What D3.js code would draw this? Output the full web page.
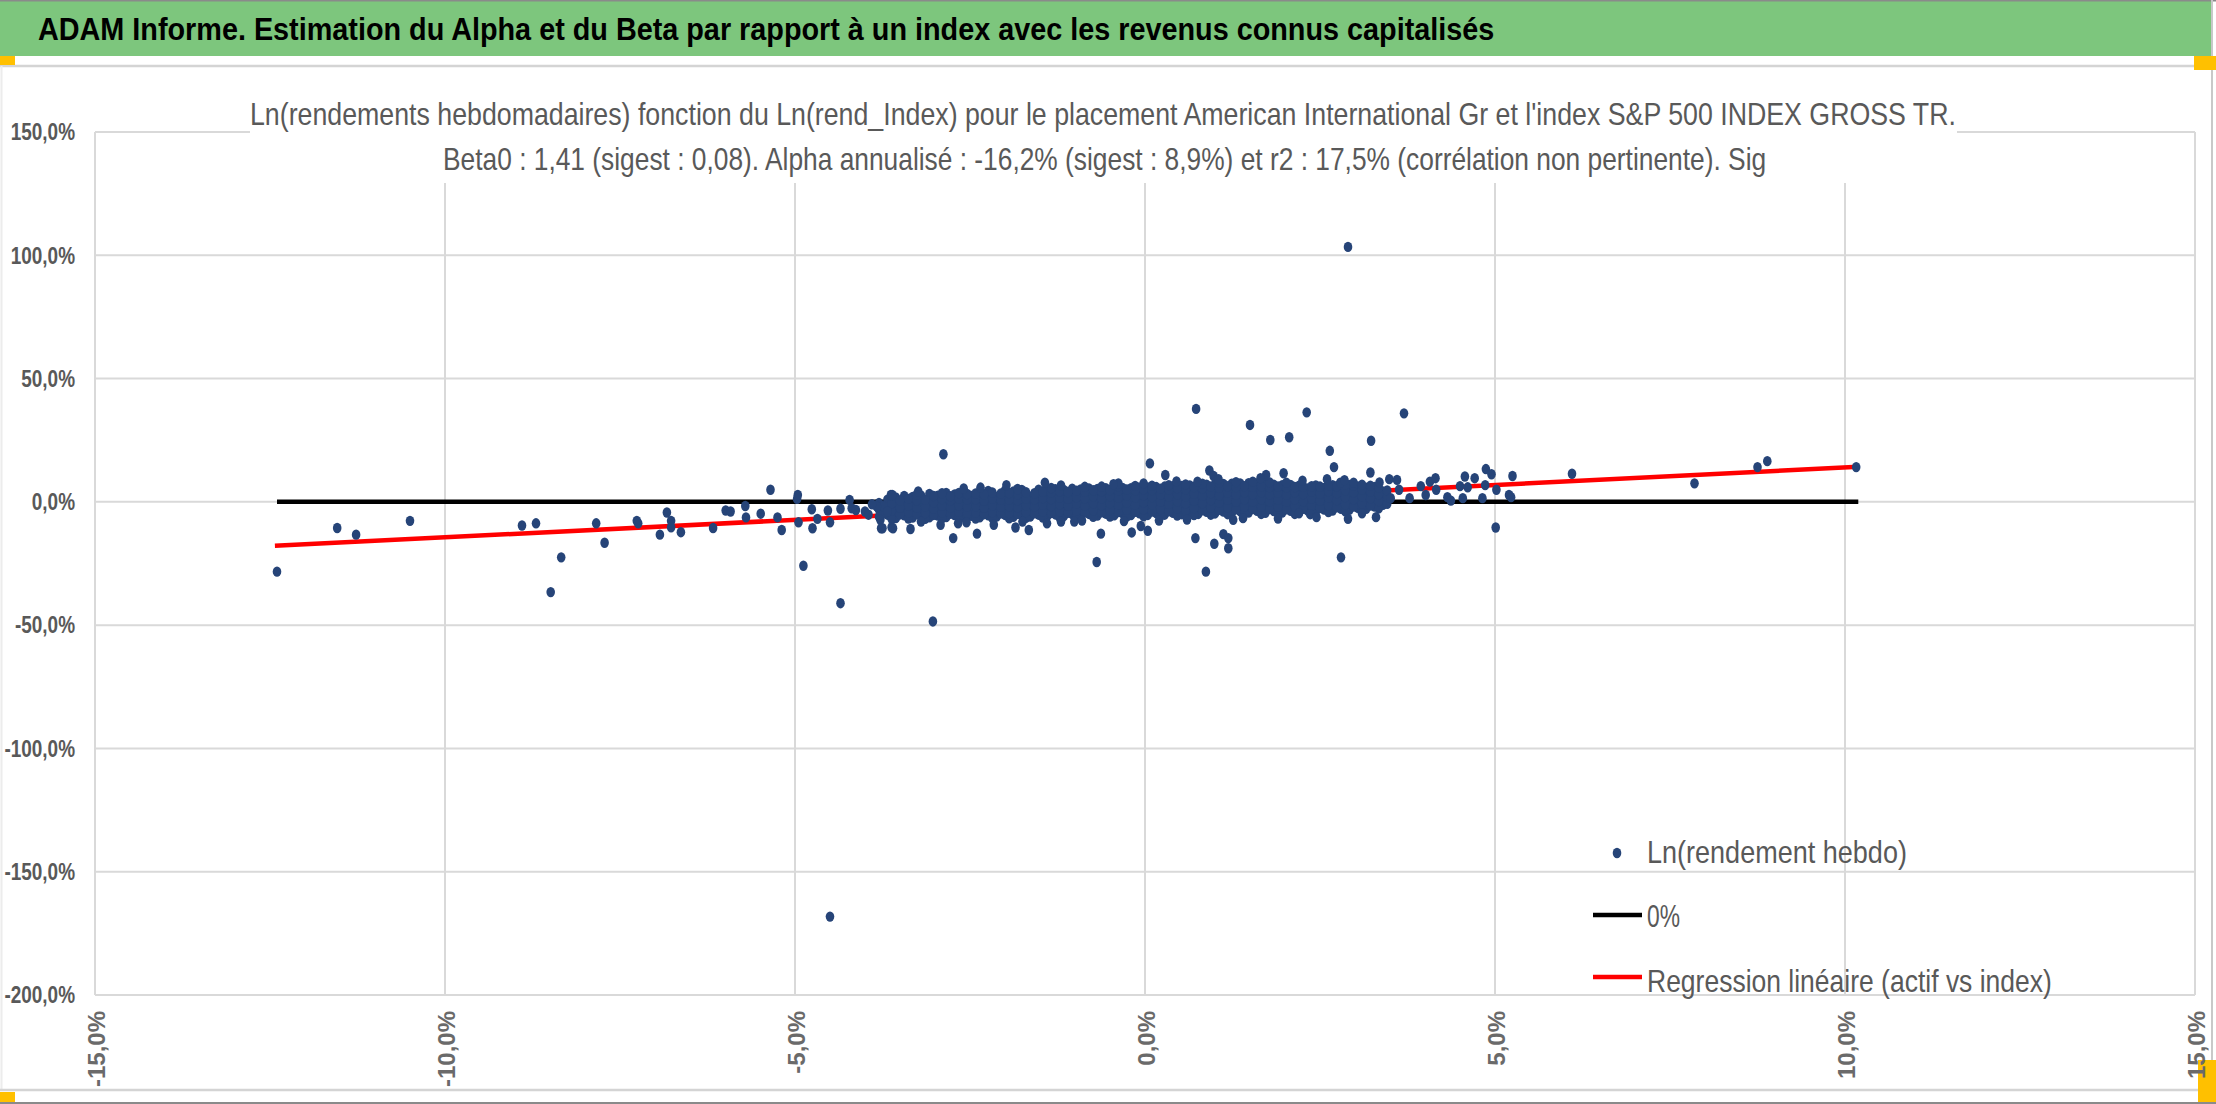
<!DOCTYPE html>
<html>
<head>
<meta charset="utf-8">
<script src="https://cdn.jsdelivr.net/npm/d3@7"></script>
<style>
html,body{margin:0;padding:0;background:#fff;overflow:hidden}
svg{display:block}
</style>
</head>
<body>
<svg id="chart" width="2216" height="1104"></svg>
<script>
// ---------------- DATA ----------------
const bannerTitle = "ADAM Informe. Estimation du Alpha et du Beta par rapport à un index avec les revenus connus capitalisés";
const chartTitle1 = "Ln(rendements hebdomadaires) fonction du Ln(rend_Index) pour le placement American International Gr et l'index S&P 500 INDEX GROSS TR.";
const chartTitle2 = "Beta0 : 1,41 (sigest : 0,08). Alpha annualisé : -16,2% (sigest : 8,9%) et r2 : 17,5% (corrélation non pertinente). Sig";
const legendLabels = ["Ln(rendement hebdo)", "0%", "Regression linéaire (actif vs index)"];

const xTickValues = [-15, -10, -5, 0, 5, 10, 15];          // Ln(rend_Index), %
const yTickValues = [150, 100, 50, 0, -50, -100, -150, -200]; // Ln(rendement hebdo), %

const zeroLine = [[-12.4, 0], [10.19, 0]];
const regressionLine = [[-12.43, -17.8], [10.19, 14.2]];

// isolated points [x %, y %]
const outlierPoints = [
  [-12.40,-28.3],[-11.54,-10.6],[-11.27,-13.3],[-10.50,-7.7],[-8.90,-9.6],[-8.70,-8.7],
  [-8.49,-36.6],[-8.34,-22.5],[-7.84,-8.7],[-7.72,-16.6],[-7.26,-7.7],[-7.24,-8.7],
  [-6.93,-13.3],[-6.83,-4.3],[-6.77,-7.7],[-6.77,-10.3],[-6.63,-12.3],[-6.17,-10.6],
  [-5.99,-3.5],[-5.92,-3.9],[-5.71,-1.7],[-5.70,-6.3],[-5.49,-4.8],[-5.35,4.9],
  [-5.25,-6.3],[-5.19,-11.4],[-4.97,1.2],[-4.96,2.8],[-4.95,-8.3],[-4.88,-25.9],
  [-4.76,-3.0],[-4.75,-10.7],[-4.68,-6.9],[-4.53,-3.5],[-4.50,-8.3],[-4.35,-41.1],
  [-4.35,-2.8],[-4.22,0.8],[-4.19,-2.6],[-4.13,-3.3],[-4.00,-3.9],[-3.83,-1.9],
  [-3.78,-7.3],[-3.77,-10.7],[-3.63,2.8],[-3.62,-10.3],[-3.68,-3.9],
  [-4.50,-168.2],[-3.03,-48.5],[2.90,103.4],
  [-2.88,19.3],[1.50,31.2],[1.79,25.1],[2.06,26.2],[0.07,15.6],[0.29,10.9],
  [0.92,12.7],[0.98,10.5],[1.73,10.9],[1.98,11.6],[0.75,8.2],[-1.43,7.8],
  [-2.59,5.4],[-3.24,4.2],[-3.61,2.8],[-1.98,6.8],[-0.38,7.5],[-0.02,7.5],
  [-0.69,-24.4],[0.87,-28.3],[0.72,-14.7],[0.99,-17.0],[1.19,-18.8],[1.12,-13.1],
  [1.19,-14.7],[-2.74,-14.7],[-2.40,-12.9],[-3.35,-11.0],[-3.60,-10.7],[-3.75,-10.7],
  [-1.85,-10.4],[-1.66,-11.4],[-0.63,-12.9],[-0.19,-12.4],[0.04,-11.7],[-0.06,-9.8],
  [-2.92,-9.3],[-2.67,-8.7],[-2.16,-9.3],[-1.40,-8.7],[-1.20,-8.0],[-1.01,-8.0],[1.26,-7.3],
  [0.73,37.7],[2.31,36.3],[3.70,35.9],[2.64,20.7],[3.23,24.8],[2.70,14.1],[3.22,11.9],
  [2.60,9.2],[2.79,7.8],[2.98,7.8],[3.49,9.2],[3.60,8.9],[3.78,1.5],[3.63,4.9],
  [3.51,1.5],[3.94,6.4],[4.01,2.8],[4.07,8.2],[4.15,9.6],[4.16,4.9],[4.32,1.9],
  [4.37,0.5],[4.54,1.5],[4.50,6.4],[4.57,10.3],[4.61,5.9],[4.71,9.6],[4.82,1.5],
  [4.87,13.3],[4.86,6.8],[4.95,11.2],[5.02,4.9],[5.01,-10.4],[5.20,2.8],[5.23,1.9],
  [5.25,10.5],[6.10,11.4],[2.80,-22.5],[2.90,-6.9],[3.30,-6.2],[2.20,-4.6],[2.36,-5.0],
  [7.85,7.5],[8.75,14.1],[8.89,16.5],[10.16,14.1],
  [-3.95,-5.2],[-3.90,-1.0],[-3.20,-8.0],[-2.55,-8.3],[-2.35,5.8],[-1.75,-8.0],
  [-1.20,6.7],[-0.90,-7.6],[-0.45,7.2],[-0.30,-7.8],[0.20,-7.6],[0.45,8.3],[0.60,-7.2],
  [1.05,9.2],[1.40,-6.6],[1.65,9.6],[1.90,-6.8],[2.25,8.6],[2.45,-6.2],[2.85,8.8],
  [3.10,-4.6],[3.35,7.9]
];

// dense central cloud, estimated column by column [x %, [y %...]] (two interleaved sets)
const cloudColumnsA = [
 [-3.80,[-6.0,-3.1,-0.4]],[-3.68,[-5.2,-2.0,0.9]],[-3.56,[-6.6,-3.9,-1.1,1.8]],
 [-3.44,[-5.5,-2.8,0.2,2.4]],[-3.32,[-6.4,-3.7,-1.0,2.0]],[-3.20,[-5.8,-3.1,-0.4,2.6]],
 [-3.08,[-6.3,-4.0,-1.5,1.1,3.2]],[-2.96,[-5.6,-2.9,-0.2,2.5]],[-2.84,[-6.2,-3.6,-1.0,1.6,3.6]],
 [-2.72,[-5.4,-2.6,0.3,3.0]],[-2.60,[-6.1,-3.5,-0.8,1.9,3.9]],[-2.48,[-5.7,-3.0,-0.3,2.4]],
 [-2.36,[-6.3,-3.8,-1.2,1.4,4.0]],[-2.24,[-5.5,-2.8,0.0,2.7,4.4]],[-2.12,[-6.0,-3.4,-0.7,2.0]],
 [-2.00,[-5.3,-2.6,0.1,2.9,4.6]],[-1.88,[-6.1,-3.6,-0.9,1.7,4.2]],[-1.76,[-5.4,-2.7,0.0,2.6,4.8]],
 [-1.64,[-6.0,-3.3,-0.6,2.1]],[-1.52,[-5.2,-2.5,0.3,3.0,4.9]],[-1.40,[-5.9,-3.2,-0.5,2.2,4.6]],
 [-1.28,[-5.1,-2.4,0.4,3.1,5.1]],[-1.16,[-5.8,-3.1,-0.3,2.4,4.8]],[-1.04,[-5.0,-2.2,0.6,3.3,5.3]],
 [-0.92,[-5.7,-2.9,-0.1,2.7,5.0]],[-0.80,[-4.9,-2.1,0.8,3.5,5.4]],[-0.68,[-5.6,-2.8,0.1,2.9,5.2]],
 [-0.56,[-4.8,-2.0,0.9,3.7,5.5]],[-0.44,[-5.5,-2.6,0.3,3.1,5.3]],[-0.32,[-4.7,-1.8,1.0,3.9,5.6]],
 [-0.20,[-5.4,-2.5,0.4,3.3,5.5]],[-0.08,[-4.6,-1.7,1.2,4.1,5.7]],[0.04,[-5.3,-2.4,0.5,3.4,5.8]],
 [0.16,[-4.5,-1.6,1.3,4.2,6.0]],[0.28,[-5.2,-2.2,0.7,3.6,6.2]],[0.40,[-4.4,-1.4,1.5,4.4,6.4]],
 [0.52,[-5.0,-2.0,0.9,3.9,6.5]],[0.64,[-4.2,-1.2,1.8,4.7,6.7]],[0.76,[-4.9,-1.9,1.1,4.1,6.9]],
 [0.88,[-4.0,-1.0,2.0,5.0,7.0]],[1.00,[-4.7,-1.7,1.3,4.3,7.1]],[1.12,[-3.9,-0.8,2.2,5.2,7.3]],
 [1.24,[-4.5,-1.5,1.5,4.5,7.4]],[1.36,[-3.8,-0.7,2.3,5.3,7.5]],[1.48,[-4.3,-1.3,1.7,4.7,7.6]],
 [1.60,[-3.6,-0.6,2.4,5.4,7.4]],[1.72,[-4.4,-1.4,1.6,4.6,7.2]],[1.84,[-3.7,-0.7,2.3,5.3,7.0]],
 [1.96,[-4.3,-1.3,1.7,4.6,6.8]],[2.08,[-3.6,-0.6,2.4,5.2,6.9]],[2.20,[-4.2,-1.2,1.8,4.7,6.6]],
 [2.32,[-3.4,-0.5,2.5,5.4]],[2.44,[-3.9,-1.0,2.0,4.9,6.7]],[2.56,[-3.1,-0.2,2.7,5.6]],
 [2.68,[-3.5,-0.6,2.3,5.1,6.8]],[2.80,[-2.8,0.1,3.0,5.9]],[2.92,[-3.2,-0.3,2.6,5.4,6.9]],
 [3.04,[-2.4,0.5,3.3,6.2]],[3.16,[-2.8,0.1,2.9,5.7]],[3.28,[-1.9,0.9,3.6,6.0]],
 [3.40,[-1.2,1.6,4.2]]
];
const cloudColumnsB = [
 [-3.74,[-4.6,-1.8]],[-3.62,[-6.9,-3.6,-0.6]],[-3.50,[-5.1,-2.4,0.6]],
 [-3.38,[-6.8,-4.2,-1.5,1.2]],[-3.26,[-5.0,-2.3,0.6,3.0]],[-3.14,[-6.9,-4.5,-1.9,0.8]],
 [-3.02,[-5.3,-2.7,-0.1,2.4]],[-2.90,[-6.7,-4.2,-1.6,1.1,3.5]],[-2.78,[-4.8,-2.2,0.6,2.3]],
 [-2.66,[-6.6,-4.0,-1.4,1.3,3.6]],[-2.54,[-4.6,-1.9,0.9,3.2]],[-2.42,[-6.8,-4.4,-1.7,1.0,3.4]],
 [-2.30,[-5.0,-2.4,0.4,3.1]],[-2.18,[-6.6,-4.1,-1.4,1.3,3.8]],[-2.06,[-4.7,-2.0,0.8,3.4]],
 [-1.94,[-6.7,-4.5,-1.8,0.9,3.6]],[-1.82,[-4.9,-2.2,0.6,3.2,5.2]],[-1.70,[-6.5,-4.1,-1.4,1.3,3.9]],
 [-1.58,[-4.6,-1.8,1.0,3.5]],[-1.46,[-6.4,-3.9,-1.2,1.5,4.1]],[-1.34,[-4.5,-1.7,1.1,3.8,5.6]],
 [-1.22,[-6.3,-3.7,-1.0,1.7,4.3]],[-1.10,[-4.4,-1.6,1.2,4.0]],[-0.98,[-6.2,-3.6,-0.8,1.9,4.5]],
 [-0.86,[-4.3,-1.5,1.4,4.1,6.1]],[-0.74,[-6.1,-3.4,-0.6,2.2,4.7]],[-0.62,[-4.2,-1.4,1.5,4.3,6.2]],
 [-0.50,[-6.0,-3.3,-0.5,2.3,4.8]],[-0.38,[-4.1,-1.2,1.7,4.5,6.4]],[-0.26,[-6.0,-3.2,-0.3,2.5,5.0]],
 [-0.14,[-4.0,-1.1,1.8,4.7,6.5]],[-0.02,[-5.9,-3.0,-0.2,2.7,5.1]],[0.10,[-3.9,-1.0,1.9,4.8,6.6]],
 [0.22,[-5.8,-2.9,0.0,2.9,5.3]],[0.34,[-3.8,-0.8,2.1,5.0,6.8]],[0.46,[-5.6,-2.7,0.2,3.1,5.6]],
 [0.58,[-3.6,-0.6,2.3,5.2,7.1]],[0.70,[-5.4,-2.5,0.5,3.4,6.0]],[0.82,[-3.4,-0.5,2.5,5.5,7.4]],
 [0.94,[-5.2,-2.3,0.7,3.6,6.2]],[1.06,[-3.2,-0.3,2.7,5.7,7.7]],[1.18,[-5.0,-2.2,0.8,3.7,6.3]],
 [1.30,[-3.0,0.0,3.0,6.0,8.0]],[1.42,[-4.8,-2.0,1.0,3.9,6.4]],[1.54,[-2.9,0.1,3.1,6.1,8.2]],
 [1.66,[-4.9,-2.0,1.0,3.9,6.3]],[1.78,[-2.9,0.1,3.1,6.0,7.9]],[1.90,[-4.8,-2.0,0.9,3.8,6.2]],
 [2.02,[-3.0,0.0,3.0,5.9,7.8]],[2.14,[-4.9,-1.9,1.0,3.9,6.0]],[2.26,[-2.8,0.2,3.2,6.1]],
 [2.38,[-4.5,-1.6,1.3,4.2,6.4]],[2.50,[-2.5,0.5,3.4,6.2]],[2.62,[-4.1,-1.3,1.6,4.4,6.5]],
 [2.74,[-2.2,0.7,3.6,6.3]],[2.86,[-3.8,-1.0,1.9,4.7,7.0]],[2.98,[-1.9,1.0,3.9,6.6]],
 [3.10,[-3.4,-0.6,2.2,5.0,7.0]],[3.22,[-1.5,1.4,4.2,6.6]],[3.34,[-2.6,0.3,3.1,5.8]],
 [3.46,[-0.8,2.0,4.6]]
];

// ---------------- LAYOUT ----------------
const W = 2216, H = 1104;
const plot = {left: 95, right: 2195, top: 132, bottom: 995};
const FONT = "'Liberation Sans', Arial, sans-serif";
const GRID = "#d9d9d9";
const DOT = "#264478";

const svg = d3.select("#chart");
const x = d3.scaleLinear().domain([-15, 15]).range([plot.left, plot.right]);
const y = d3.scaleLinear().domain([-200, 150]).range([plot.bottom, plot.top]);

const frLocale = d3.formatLocale({decimal: ",", thousands: " ", grouping: [3], currency: ["", "€"], minus: "-", percent: "%"});
const fmtPct = frLocale.format(".1%");

// condensed text: the font size is chosen so the natural width equals the target,
// then the glyphs are stretched vertically back to the wanted height.
function condensedText(parent, str, x0, y0, targetW, fontSize, opts) {
  const t = parent.append("text").attr("x", 0).attr("y", 0)
    .attr("font-family", FONT).attr("font-size", fontSize)
    .attr("font-weight", opts.weight || "normal").attr("fill", opts.fill)
    .attr("text-anchor", opts.anchor || "start").text(str);
  const w = t.node().getComputedTextLength();
  const fs = fontSize * targetW / w;
  t.attr("font-size", fs).attr("transform", `translate(${x0},${y0}) scale(1,${(fontSize / fs).toFixed(4)})`);
  return t;
}

// ---------- frame / banner ----------
svg.append("rect").attr("x", 0).attr("y", 0).attr("width", W).attr("height", H).attr("fill", "#fff");
svg.append("rect").attr("x", 0).attr("y", 0).attr("width", 2212).attr("height", 56).attr("fill", "#7dc67d");
svg.append("line").attr("x1", 0).attr("x2", W).attr("y1", 0.75).attr("y2", 0.75).attr("stroke", "#8a8a8a").attr("stroke-width", 1.5);
svg.append("line").attr("x1", 0).attr("x2", 2212).attr("y1", 66).attr("y2", 66).attr("stroke", "#d4d4d4").attr("stroke-width", 2.5);
svg.append("line").attr("x1", 2212).attr("x2", 2212).attr("y1", 0).attr("y2", H).attr("stroke", "#c8c8c8").attr("stroke-width", 2);
svg.append("line").attr("x1", 1.5).attr("x2", 1.5).attr("y1", 66).attr("y2", 1090).attr("stroke", "#ececec").attr("stroke-width", 2);
svg.append("line").attr("x1", 0).attr("x2", 2212).attr("y1", 1090).attr("y2", 1090).attr("stroke", "#d4d4d4").attr("stroke-width", 2.5);
svg.append("line").attr("x1", 0).attr("x2", W).attr("y1", 1103).attr("y2", 1103).attr("stroke", "#8a8a8a").attr("stroke-width", 2);
const yellow = "#ffc000";
svg.append("rect").attr("x", 0).attr("y", 56).attr("width", 15).attr("height", 9).attr("fill", yellow);
svg.append("rect").attr("x", 2194).attr("y", 56).attr("width", 22).attr("height", 14).attr("fill", yellow);
svg.append("rect").attr("x", 0).attr("y", 1092).attr("width", 15).attr("height", 10).attr("fill", yellow);
svg.append("rect").attr("x", 2198).attr("y", 1060).attr("width", 18).attr("height", 42).attr("fill", yellow);

condensedText(svg, bannerTitle, 38, 40, 1457, 31, {weight: "bold", fill: "#000"});

// ---------- gridlines ----------
const grid = svg.append("g");
grid.selectAll("line.v").data(xTickValues).join("line")
  .attr("x1", d => x(d)).attr("x2", d => x(d)).attr("y1", plot.top).attr("y2", plot.bottom)
  .attr("stroke", GRID).attr("stroke-width", 2);
grid.selectAll("line.h").data(yTickValues).join("line").attr("class", "h")
  .attr("x1", plot.left).attr("x2", plot.right).attr("y1", d => y(d)).attr("y2", d => y(d))
  .attr("stroke", GRID).attr("stroke-width", 2);

// ---------- chart title (white box hides gridlines) ----------
svg.append("rect").attr("x", 250).attr("y", 70).attr("width", 1707).attr("height", 113).attr("fill", "#fff");
condensedText(svg, chartTitle1, 250, 125, 1707, 31, {fill: "#595959"});
condensedText(svg, chartTitle2, 443, 170, 1324, 31, {fill: "#595959"});

// ---------- series ----------
const line = d3.line().x(d => x(d[0])).y(d => y(d[1]));
svg.append("path").datum(zeroLine).attr("d", line).attr("stroke", "#000").attr("stroke-width", 4.5).attr("fill", "none");
svg.append("path").datum(regressionLine).attr("d", line).attr("stroke", "#ff0000").attr("stroke-width", 4.5).attr("fill", "none");

const flatten = cols => cols.flatMap(([cx, ys]) => ys.map(v => [cx, v]));
const allPoints = flatten(cloudColumnsA).concat(flatten(cloudColumnsB), outlierPoints);
svg.append("g").selectAll("ellipse").data(allPoints).join("ellipse")
  .attr("cx", d => x(d[0])).attr("cy", d => y(d[1]))
  .attr("rx", 4.3).attr("ry", 5.2).attr("fill", DOT);

// ---------- axes labels ----------
const ySqueeze = 0.79;
const gy = svg.append("g").attr("transform", `translate(${plot.left},0)`)
  .call(d3.axisLeft(y).tickValues(yTickValues).tickSize(0).tickPadding(20).tickFormat(d => fmtPct(d / 100)));
gy.select(".domain").remove();
gy.selectAll("text").attr("font-family", FONT).attr("font-weight", "bold")
  .attr("font-size", 24 * ySqueeze).attr("fill", "#595959")
  .attr("x", 0).attr("dy", null).attr("y", 7.7 * ySqueeze)
  .attr("transform", `translate(-20,0) scale(1,${(1 / ySqueeze).toFixed(4)})`);

const gx = svg.append("g").attr("transform", `translate(0,${plot.bottom})`)
  .call(d3.axisBottom(x).tickValues(xTickValues).tickSize(0).tickFormat(d => fmtPct(d / 100)));
gx.select(".domain").remove();
gx.selectAll("text").attr("font-family", FONT).attr("font-weight", "bold").attr("font-size", 24).attr("fill", "#6a6a6a")
  .attr("transform", "rotate(-90)").attr("text-anchor", "end").attr("x", -16).attr("y", 9).attr("dy", null);

// ---------- legend ----------
const lg = svg.append("g");
lg.append("ellipse").attr("cx", 1617).attr("cy", 853).attr("rx", 4.3).attr("ry", 5.2).attr("fill", DOT);
lg.append("line").attr("x1", 1593).attr("x2", 1642).attr("y1", 915).attr("y2", 915).attr("stroke", "#000").attr("stroke-width", 4.5);
lg.append("line").attr("x1", 1593).attr("x2", 1642).attr("y1", 977).attr("y2", 977).attr("stroke", "#ff0000").attr("stroke-width", 4.5);
const legendBaselines = [863, 927, 992];
const legendWidths = [260, 33, 405];
legendLabels.forEach((t, i) => {
  condensedText(lg, t, 1647, legendBaselines[i], legendWidths[i], 31, {fill: "#595959"});
});
</script>
</body>
</html>
